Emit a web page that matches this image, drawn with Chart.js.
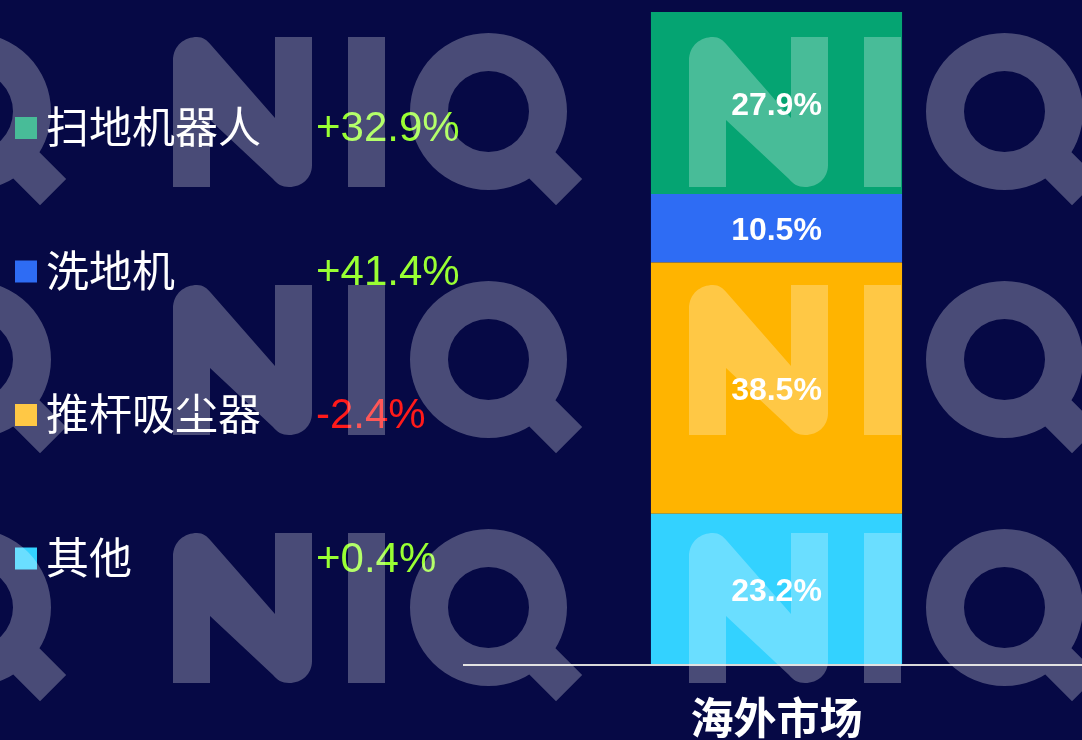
<!DOCTYPE html>
<html>
<head>
<meta charset="utf-8">
<script src="https://cdn.jsdelivr.net/npm/chart.js@4.4.1/dist/chart.umd.min.js"></script>
<style>
  html, body { margin: 0; padding: 0; background: #060945; }
  #wrap { width: 1082px; height: 740px; }
</style>
</head>
<body>
<div id="wrap"><canvas id="chart" width="1082" height="740"></canvas></div>
<script>
const categories = ["海外市场"];
const seriesNames = ["扫地机器人", "洗地机", "推杆吸尘器", "其他"];
const shareValues = [27.9, 10.5, 38.5, 23.2];
const growthValues = [32.9, 41.4, -2.4, 0.4];
const seriesColors = ["#05A472", "#2E6CF4", "#FFB400", "#33D2FF"];

const bgColor = "#060945";
const cjkFont = '"Noto Sans CJK SC", "Noto Sans", sans-serif';
const latinFont = '"Liberation Sans", Arial, sans-serif';

// first dataset sits at the bottom of the stack, so reverse the legend order
const datasets = seriesNames.map((name, i) => ({
  label: name,
  data: [shareValues[i]],
  backgroundColor: seriesColors[i],
  borderWidth: 0,
  categoryPercentage: 1,
  barPercentage: 0.411,
})).reverse();

const total = shareValues.reduce((a, b) => a + b, 0);

const background = {
  id: "background",
  beforeDraw(chart) {
    const ctx = chart.ctx;
    ctx.save();
    ctx.fillStyle = bgColor;
    ctx.fillRect(0, 0, chart.width, chart.height);
    ctx.restore();
  },
};

// baseline, category name and share labels inside the segments
const barExtras = {
  id: "barExtras",
  afterDatasetsDraw(chart) {
    const ctx = chart.ctx;
    ctx.save();
    const y0 = chart.scales.y.getPixelForValue(0);
    ctx.strokeStyle = "#D9D9D9";
    ctx.lineWidth = 2;
    ctx.beginPath();
    ctx.moveTo(463, y0);
    ctx.lineTo(chart.width, y0);
    ctx.stroke();

    ctx.fillStyle = "#FFFFFF";
    ctx.textAlign = "center";
    ctx.textBaseline = "middle";
    ctx.font = "bold 43px " + cjkFont;
    categories.forEach((cat, j) => {
      ctx.fillText(cat, chart.scales.x.getPixelForValue(j), y0 + 53);
    });

    ctx.font = "bold 32px " + latinFont;
    chart.data.datasets.forEach((ds, i) => {
      const meta = chart.getDatasetMeta(i);
      meta.data.forEach((bar, j) => {
        const v = ds.data[j];
        ctx.fillText(v.toFixed(1) + "%", bar.x, (bar.y + bar.base) / 2 + 3);
      });
    });
    ctx.restore();
  },
};

// legend on the left with the growth column
const sideLegend = {
  id: "sideLegend",
  afterDraw(chart) {
    const ctx = chart.ctx;
    ctx.save();
    seriesNames.forEach((name, i) => {
      const cy = 128 + i * 143.5;
      ctx.fillStyle = seriesColors[i];
      ctx.fillRect(15, cy - 11, 22, 22);

      ctx.fillStyle = "#FFFFFF";
      ctx.font = "43px " + cjkFont;
      ctx.textAlign = "left";
      ctx.textBaseline = "middle";
      ctx.fillText(name, 46, cy - 1);

      const g = growthValues[i];
      ctx.fillStyle = g >= 0 ? "#99FF33" : "#FF1A1A";
      ctx.font = "42px " + latinFont;
      ctx.textBaseline = "alphabetic";
      ctx.fillText((g >= 0 ? "+" : "") + g.toFixed(1) + "%", 316, cy + 13);
    });
    ctx.restore();
  },
};

function addNIQ(ctx, ox, oy) {
  const c = Math.SQRT1_2;
  // N
  ctx.moveTo(ox + 0, oy + 150);
  ctx.lineTo(ox + 0, oy + 24);
  ctx.bezierCurveTo(ox + 0, oy + 8, ox + 12, oy + 0, ox + 24, oy + 0);
  ctx.bezierCurveTo(ox + 30, oy + 0, ox + 34, oy + 3, ox + 38, oy + 8);
  ctx.lineTo(ox + 102, oy + 81);
  ctx.lineTo(ox + 102, oy + 0);
  ctx.lineTo(ox + 139, oy + 0);
  ctx.lineTo(ox + 139, oy + 128);
  ctx.bezierCurveTo(ox + 139, oy + 141, ox + 129, oy + 150, ox + 116, oy + 150);
  ctx.bezierCurveTo(ox + 109, oy + 150, ox + 104, oy + 147, ox + 100, oy + 142);
  ctx.lineTo(ox + 37, oy + 83);
  ctx.lineTo(ox + 37, oy + 150);
  ctx.closePath();
  // I
  ctx.rect(ox + 175, oy + 0, 37, 150);
  // Q
  const qx = ox + 315.5, qy = oy + 74.5;
  ctx.moveTo(qx + 78.5, qy);
  ctx.arc(qx, qy, 78.5, 0, Math.PI * 2);
  ctx.moveTo(qx + 40.5, qy);
  ctx.arc(qx, qy, 40.5, Math.PI * 2, 0, true);
  const pt = (d, w) => [qx + c * d - c * w, qy + c * d + c * w];
  const p1 = pt(55, -18.5), p2 = pt(114, -18.5), p3 = pt(114, 18.5), p4 = pt(55, 18.5);
  ctx.moveTo(p1[0], p1[1]);
  ctx.lineTo(p2[0], p2[1]);
  ctx.lineTo(p3[0], p3[1]);
  ctx.lineTo(p4[0], p4[1]);
  ctx.closePath();
}

const watermark = {
  id: "watermark",
  afterDraw(chart) {
    const ctx = chart.ctx;
    ctx.save();
    ctx.fillStyle = "rgba(255,255,255,0.27)";
    ctx.beginPath();
    for (let r = 0; r < 3; r++) {
      for (let k = -1; k < 3; k++) {
        addNIQ(ctx, 173 + 516 * k, 37 + 248 * r);
      }
    }
    ctx.fill("nonzero");
    ctx.restore();
  },
};

new Chart(document.getElementById("chart").getContext("2d"), {
  type: "bar",
  data: {
    labels: categories,
    datasets: datasets,
  },
  options: {
    responsive: false,
    animation: false,
    layout: {
      padding: {left: 471, right: 0, top: 12, bottom: 75},
    },
    plugins: {
      legend: {display: false},
      tooltip: {enabled: false},
    },
    scales: {
      x: {
        stacked: true,
        display: false,
      },
      y: {
        stacked: true,
        display: false,
        min: 0,
        max: total,
      },
    },
  },
  plugins: [background, barExtras, sideLegend, watermark],
});
</script>
</body>
</html>
